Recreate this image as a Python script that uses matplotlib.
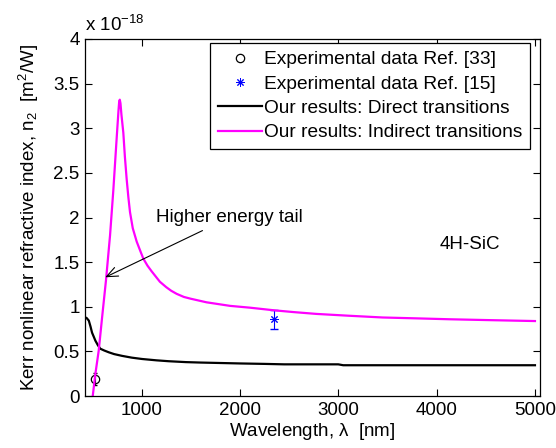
import matplotlib
matplotlib.use("Agg")
import matplotlib.pyplot as plt
from matplotlib.ticker import FuncFormatter

plt.rcParams['font.family'] = ['Liberation Sans', 'DejaVu Sans']
plt.rcParams['mathtext.fontset'] = 'custom'
plt.rcParams['mathtext.rm'] = 'Liberation Sans'
plt.rcParams['mathtext.default'] = 'regular'

# values in units of 1e-18 m^2/W
direct_wl = [426, 440, 463, 480, 496, 515, 530, 555, 580, 620, 666, 720, 801, 900,
             1004, 1150, 1275, 1450, 1600, 1800, 2000, 2250, 2450, 2700, 3000,
             3050, 3500, 4000, 4500, 5000]
direct_n2 = [0.88, 0.875, 0.845, 0.78, 0.71, 0.66, 0.62, 0.57, 0.53, 0.51, 0.49, 0.47,
             0.45, 0.43, 0.415, 0.40, 0.39, 0.38, 0.375, 0.37, 0.365, 0.36, 0.355,
             0.355, 0.355, 0.345, 0.345, 0.345, 0.345, 0.345]

indirect_wl = [503, 530, 564, 600, 638, 679, 712, 747, 765, 772, 778, 785, 795, 814,
               830, 848, 865, 882, 910, 950, 985, 1017, 1060, 1100, 1150, 1186, 1250,
               1300, 1356, 1430, 1500, 1580, 1660, 1780, 1900, 2100, 2350, 2550, 2777,
               3100, 3450, 3800, 4130, 4550, 5000]
indirect_n2 = [0.0, 0.25, 0.51, 0.9, 1.3, 1.8, 2.3, 2.9, 3.2, 3.3, 3.32, 3.28, 3.15,
               2.95, 2.68, 2.43, 2.23, 2.06, 1.88, 1.73, 1.63, 1.54, 1.46, 1.40, 1.33,
               1.28, 1.22, 1.18, 1.145, 1.11, 1.09, 1.07, 1.05, 1.03, 1.01, 0.99, 0.96,
               0.94, 0.92, 0.90, 0.88, 0.87, 0.86, 0.85, 0.84]

exp33_wl = [530]
exp33_n2 = [0.19]
exp33_err = [0.07]

exp15_wl = [2350]
exp15_n2 = [0.86]
exp15_err = [0.105]

labels = ["Experimental data Ref. [33]", "Experimental data Ref. [15]",
          "Our results: Direct transitions", "Our results: Indirect transitions"]

fig = plt.figure(figsize=(5.56, 4.48), dpi=100)
ax = fig.add_axes([0.153, 0.116, 0.818, 0.797])

ax.errorbar(exp33_wl, exp33_n2, yerr=exp33_err, fmt='none', ecolor='black',
            elinewidth=0.8, capsize=1.5)
ax.errorbar(exp15_wl, exp15_n2, yerr=exp15_err, fmt='none', ecolor='blue',
            elinewidth=0.8, capsize=3)
ax.plot(exp33_wl, exp33_n2, 'o', mfc='none', mec='black', ms=6, mew=0.9, label=labels[0])
ax.plot(exp15_wl, exp15_n2, ls='none', marker=(8, 2, 0), color='blue', ms=6, mew=0.7,
        label=labels[1])
ax.plot(direct_wl, direct_n2, color='black', lw=1.6, label=labels[2])
ax.plot(indirect_wl, indirect_n2, color='#ff00ff', lw=1.6, label=labels[3])

ax.set_xlim(425, 5050)
ax.set_ylim(0, 4)
ax.set_xticks([1000, 2000, 3000, 4000, 5000])
ax.set_yticks([0, 0.5, 1, 1.5, 2, 2.5, 3, 3.5, 4])
ax.yaxis.set_major_formatter(FuncFormatter(lambda v, p: '%g' % v))
ax.tick_params(direction='in', top=True, right=True, length=5, width=0.8,
               labelsize=13.5, pad=4)
for s in ax.spines.values():
    s.set_linewidth(0.9)

ax.set_xlabel(r'Wavelength, $\lambda$  [nm]', fontsize=13.5, labelpad=2)
ax.set_ylabel(r'Kerr nonlinear refractive index, n$_2$  [m$^2$/W]', fontsize=13.5,
              labelpad=9)
ax.text(0.0, 1.012, r'x 10$^{-18}$', transform=ax.transAxes, fontsize=13.5,
        ha='left', va='bottom')

ax.annotate('Higher energy tail', xy=(629, 1.33), xytext=(1150, 2.0), fontsize=13.5,
            ha='left', va='center',
            arrowprops=dict(arrowstyle='->,head_length=0.6,head_width=0.25',
                            color='black', lw=0.8, shrinkA=3, shrinkB=0))
ax.text(4030, 1.7, '4H-SiC', fontsize=13.5, ha='left', va='center')

leg = ax.legend(loc='upper right', bbox_to_anchor=(0.978, 0.988), borderaxespad=0,
                fontsize=13.8, fancybox=False, framealpha=1, edgecolor='black',
                handlelength=2.3, handletextpad=0.1, labelspacing=0.36,
                borderpad=0.4)
leg.get_frame().set_linewidth(0.9)

fig.savefig('out.png', dpi=100)
